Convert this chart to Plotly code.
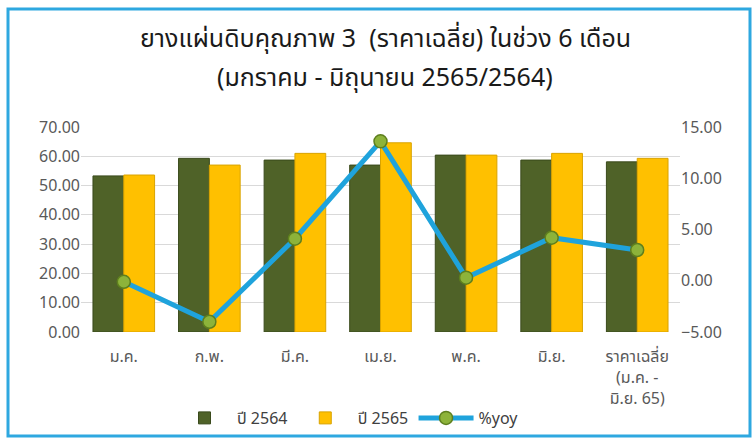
import plotly.graph_objects as go

categories = ["ม.ค.", "ก.พ.", "มี.ค.", "เม.ย.", "พ.ค.", "มิ.ย.", "ราคาเฉลี่ย<br>(ม.ค. -<br>มิ.ย. 65)"]
price_2564 = [53.3, 59.3, 58.7, 57.0, 60.4, 58.7, 58.1]
price_2565 = [53.6, 57.0, 61.0, 64.6, 60.4, 61.0, 59.3]
yoy = [-0.1, -4.0, 4.1, 13.6, 0.3, 4.2, 3.0]

left_ticks = [0, 10, 20, 30, 40, 50, 60, 70]
right_ticks = [-5, 0, 5, 10, 15]

FONT = "Tahoma, 'Noto Sans', 'Noto Sans Thai', sans-serif"
GRAY = "#595959"

# pixel geometry helpers (plot area)
L, R, T, B = 81, 680, 127, 332
W, H = 755, 439
def px(x):
    return (x - L) / (R - L)
def py(y):
    return (B - y) / (B - T)

fig = go.Figure()
fig.add_trace(go.Bar(
    x=categories, y=price_2564, name="ปี 2564",
    marker=dict(color="#4F6228", line=dict(color="#3A4A1C", width=1)),
))
fig.add_trace(go.Bar(
    x=categories, y=price_2565, name="ปี 2565",
    marker=dict(color="#FFC000", line=dict(color="#D9A300", width=1)),
))
fig.add_trace(go.Scatter(
    x=categories, y=yoy, name="%yoy", yaxis="y2", mode="lines+markers",
    line=dict(color="#1FA3DC", width=5),
    marker=dict(size=13, color="#8DB33A", line=dict(color="#5E7F1E", width=1.5)),
))

fig.update_layout(
    width=W, height=H,
    margin=dict(l=L, r=W - R, t=T, b=H - B, autoexpand=False),
    paper_bgcolor="white", plot_bgcolor="white",
    font=dict(family=FONT, color=GRAY, size=14),
    barmode="group", bargap=0.28, bargroupgap=0,
    showlegend=True,
    legend=dict(orientation="h", x=px(348), xanchor="center", y=py(418), yanchor="middle",
                itemwidth=55,
                font=dict(size=16, color="#404040"), bgcolor="rgba(0,0,0,0)"),
    xaxis=dict(showgrid=False, showline=False, ticks="", tickfont=dict(size=16, color=GRAY),
               ticklabelstandoff=13),
    yaxis=dict(range=[0, 70], tickvals=left_ticks, tickformat=".2f", showgrid=True,
               gridcolor="#D9D9D9", gridwidth=1, zeroline=False, showline=False,
               tickfont=dict(size=16, color=GRAY)),
    yaxis2=dict(range=[-5, 15], tickvals=right_ticks, tickformat=".2f", overlaying="y", side="right",
                showgrid=False, zeroline=False, showline=False, tickfont=dict(size=16, color=GRAY)),
    annotations=[
        dict(text="ยางแผ่นดิบคุณภาพ 3  (ราคาเฉลี่ย) ในช่วง 6 เดือน", xref="paper", yref="paper",
             x=px(385), y=py(37), yanchor="middle", showarrow=False,
             font=dict(size=25, color="#1a1a1a")),
        dict(text="(มกราคม - มิถุนายน 2565/2564)", xref="paper", yref="paper",
             x=px(385), y=py(76), yanchor="middle", showarrow=False,
             font=dict(size=25, color="#1a1a1a")),
    ],
    shapes=[
        dict(type="rect", xref="paper", yref="paper", x0=px(8), x1=px(750), y0=py(436), y1=py(9),
             line=dict(color="#2EA8E0", width=3), fillcolor="rgba(0,0,0,0)", layer="below"),
    ],
)

fig.write_html("out.html", config={"displayModeBar": False},
               post_script="document.body.style.margin='0';document.body.style.overflow='hidden';")
